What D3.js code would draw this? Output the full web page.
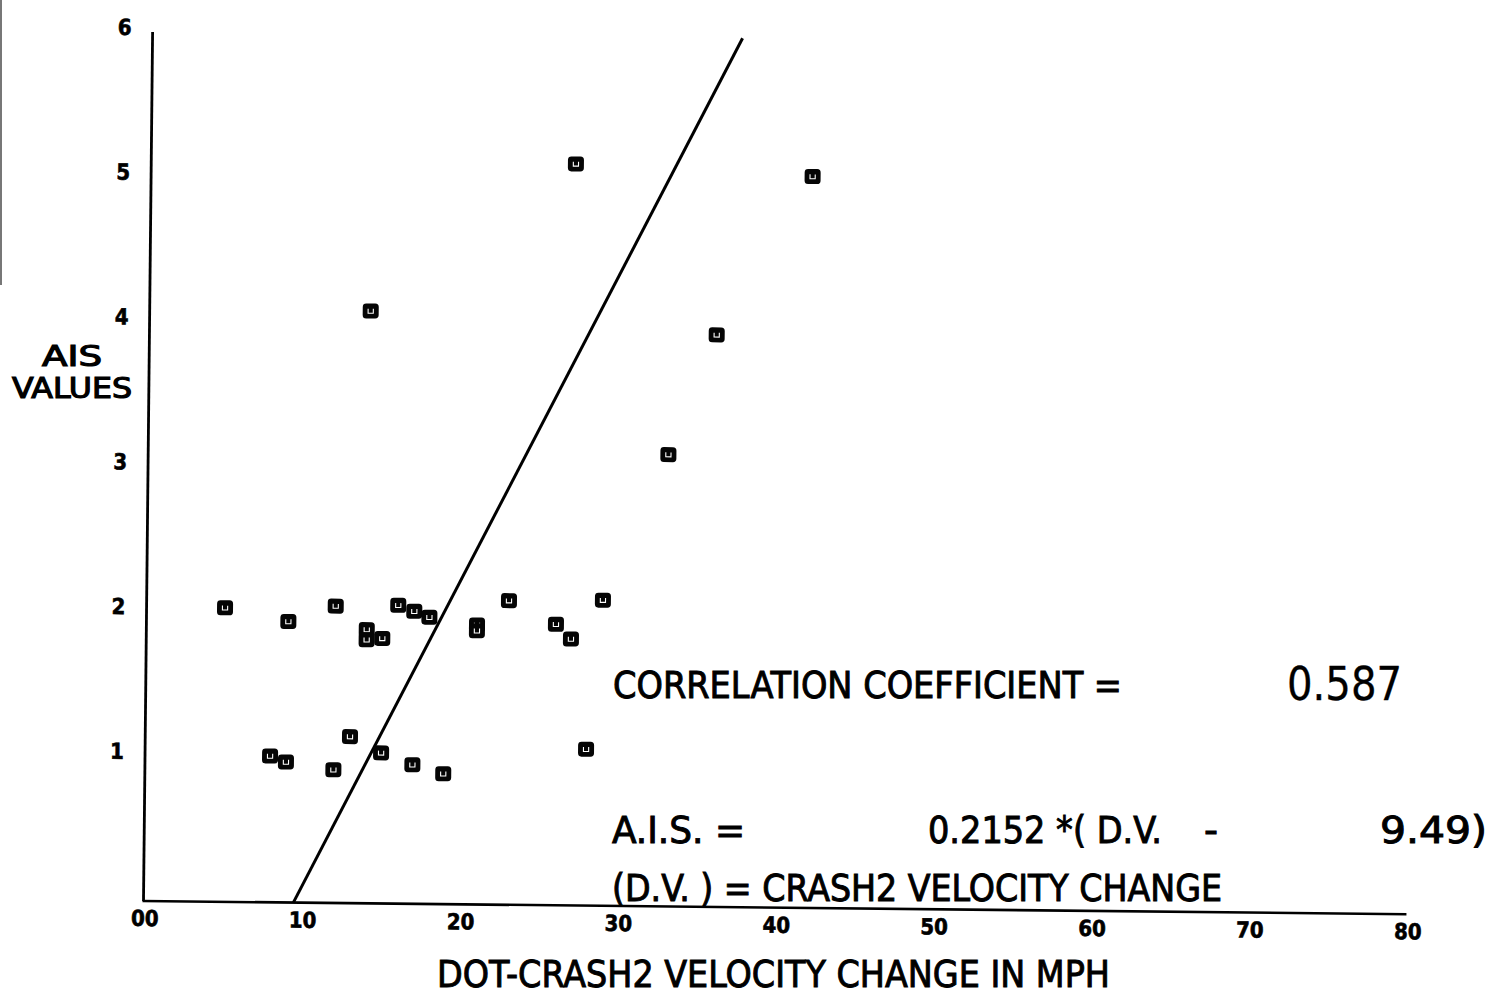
<!DOCTYPE html>
<html>
<head>
<meta charset="utf-8">
<script src="https://cdn.jsdelivr.net/npm/d3@7"></script>
<style>
  body { margin: 0; background: #fff; }
  svg { display: block; }
</style>
</head>
<body>
<svg id="chart" width="1506" height="1001"></svg>
<script>
// DOT-CRASH2 velocity change (mph) against AIS value, one entry per case
const dvValues = [4.97, 8.99, 11.98, 15.94, 16.96, 17.92, 13.96, 13.96, 14.95, 20.94,
                  20.94, 22.95, 25.94, 26.9, 28.9, 26.9, 41.9, 14.0, 35.93, 32.95,
                  12.97, 7.92, 8.93, 11.94, 14.95, 16.94, 18.9, 27.93];
const aisValues = [2.03, 1.94, 2.05, 2.06, 2.02, 1.98, 1.89, 1.82, 1.83, 1.93,
                   1.89, 2.10, 1.94, 1.84, 2.11, 5.12, 5.05, 4.09, 3.95, 3.12,
                   1.15, 1.01, 0.97, 0.92, 1.04, 0.96, 0.90, 1.08];

const xTickValues = [0, 10, 20, 30, 40, 50, 60, 70, 80];
const xTickLabels = ["00", "10", "20", "30", "40", "50", "60", "70", "80"];
const yTickValues = [1, 2, 3, 4, 5, 6];
const yTickLabels = ["1", "2", "3", "4", "5", "6"];

// Fitted line: A.I.S. = slope * (D.V. - offset)
const fitSlope = 0.2152;
const fitOffset = 9.49;
const correlation = 0.587;

const svg = d3.select("#chart");
const font = "'DejaVu Sans Condensed', 'DejaVu Sans', sans-serif";

// thin page edge on the left
svg.append("line")
  .attr("x1", 1).attr("y1", 0).attr("x2", 1).attr("y2", 285)
  .attr("stroke", "#555").attr("stroke-width", 1.6);

// plot frame sits slightly skewed on the sheet
const plot = svg.append("g")
  .attr("transform", "translate(143.5,901) rotate(0.6)");

const x = d3.scaleLinear().domain([0, 80]).range([0, 1263]);
const y = d3.scaleLinear().domain([0, 6]).range([0, -869]);

// axes
plot.append("line")
  .attr("x1", x(0)).attr("y1", y(0)).attr("x2", x(0)).attr("y2", y(6))
  .attr("stroke", "#000").attr("stroke-width", 2.8);
plot.append("line")
  .attr("x1", x(0) - 1).attr("y1", y(0)).attr("x2", x(80)).attr("y2", y(0))
  .attr("stroke", "#000").attr("stroke-width", 2.6);

// tick labels
plot.selectAll("text.xt").data(xTickValues).join("text")
  .attr("class", "xt")
  .attr("x", d => x(d) + 1.5)
  .attr("y", 25)
  .attr("text-anchor", "middle")
  .attr("font-family", font).attr("font-weight", "bold").attr("font-size", 22)
  .attr("stroke", "#000").attr("stroke-width", 0.6)
  .text((d, i) => xTickLabels[i]);

plot.selectAll("text.yt").data(yTickValues).join("text")
  .attr("class", "yt")
  .attr("x", -28)
  .attr("y", d => y(d) + 3)
  .attr("text-anchor", "middle")
  .attr("font-family", font).attr("font-weight", "bold").attr("font-size", 22)
  .attr("stroke", "#000").attr("stroke-width", 0.6)
  .text((d, i) => yTickLabels[i]);

// regression line from the x-intercept up to the top of the axis
const yTop = 6;
const fitLine = [[fitOffset, 0], [fitOffset + yTop / fitSlope, yTop]];
plot.append("path")
  .datum(fitLine)
  .attr("d", d3.line().x(d => x(d[0])).y(d => y(d[1])))
  .attr("stroke", "#000").attr("stroke-width", 3).attr("fill", "none");

// data markers: filled square with a small open "u"
const pts = plot.selectAll("g.pt").data(dvValues.map((v, i) => [v, aisValues[i]])).join("g")
  .attr("class", "pt")
  .attr("transform", d => `translate(${x(d[0])},${y(d[1])})`);
pts.append("rect")
  .attr("x", -8).attr("y", -7.5).attr("width", 16).attr("height", 15).attr("rx", 3.5)
  .attr("fill", "#050505");
pts.append("path")
  .attr("d", "M-2.6,-2.2V2.2H2.6V-2.2")
  .attr("stroke", "#fff").attr("stroke-width", 1.1).attr("fill", "none");

// text helper
function label(txt, xPos, yPos, size, len, opts) {
  opts = opts || {};
  const t = svg.append("text")
    .attr("x", xPos).attr("y", yPos)
    .attr("font-family", opts.family || font)
    .attr("font-size", size)
    .attr("font-weight", opts.weight || "normal")
    .attr("text-anchor", opts.anchor || "start")
    .attr("fill", "#000")
    .attr("stroke", "#000")
    .attr("stroke-width", opts.stroke == null ? 0.9 : opts.stroke)
    .text(txt);
  if (len) t.attr("textLength", len).attr("lengthAdjust", "spacingAndGlyphs");
  return t;
}

// y-axis title, two stacked lines
label("AIS", 72, 366, 28, 60, { anchor: "middle", stroke: 1.1 });
label("VALUES", 72, 398, 28, 120, { anchor: "middle", stroke: 1.1 });

label("DOT-CRASH2 VELOCITY CHANGE IN MPH", 437, 987, 37, 673);

// fit summary
label("CORRELATION COEFFICIENT =", 613, 698, 37, 509);
label(correlation.toFixed(3), 1287, 700, 46, 115, { stroke: 0.3 });
label("A.I.S. =", 612, 843, 37, 133);
label(`${fitSlope} *( D.V.`, 928, 843, 37, 234);
label("-", 1204, 843, 37, 14);
label(`${fitOffset})`, 1380, 843, 37, 107);
label("(D.V. ) = CRASH2 VELOCITY CHANGE", 612, 901, 37, 610);
</script>
</body>
</html>
